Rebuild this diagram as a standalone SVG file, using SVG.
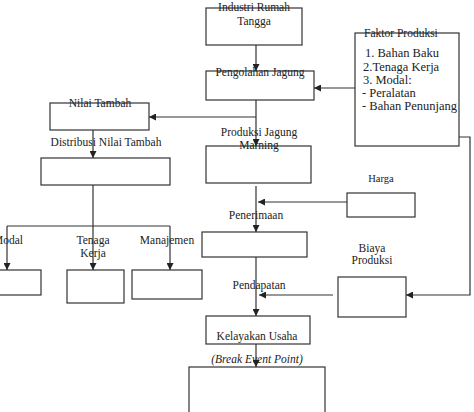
<svg xmlns="http://www.w3.org/2000/svg" width="474" height="412" viewBox="0 0 474 412" font-family="'Liberation Serif', 'DejaVu Serif', serif">
<style>
.b{fill:#fff;stroke:#333;stroke-width:1.2}
.l{fill:none;stroke:#333;stroke-width:1.2}
text{font-family:'Liberation Serif','DejaVu Serif',serif;font-size:11.5px;fill:#222}
.c{text-anchor:middle}
.s{font-size:12.5px}
.i{font-style:italic}
</style>
<defs>
<marker id="a" viewBox="0 0 10 10" refX="10" refY="5" markerWidth="7" markerHeight="7" markerUnits="userSpaceOnUse" orient="auto"><path d="M0,0 L10,5 L0,10 z" fill="#222"/></marker>
</defs>
<rect width="474" height="412" fill="#fff"/>
<g id="connectors">
<path class="l" d="M256,45 V71" marker-end="url(#a)"/>
<path class="l" d="M355,88 H314" marker-end="url(#a)"/>
<path class="l" d="M256,100 V146" marker-end="url(#a)"/>
<path class="l" d="M256,117 H149" marker-end="url(#a)"/>
<path class="l" d="M93,130 V158" marker-end="url(#a)"/>
<path class="l" d="M93,185 V270" marker-end="url(#a)"/>
<path class="l" d="M7,226 H170"/>
<path class="l" d="M7,226 V270" marker-end="url(#a)"/>
<path class="l" d="M170,226 V270" marker-end="url(#a)"/>
<path class="l" d="M256,186 V232" marker-end="url(#a)"/>
<path class="l" d="M347,202 H258" marker-end="url(#a)"/>
<path class="l" d="M256,257 V316" marker-end="url(#a)"/>
<path class="l" d="M333,295 H259" marker-end="url(#a)"/>
<path class="l" d="M459,137 H470 V295 H406" marker-end="url(#a)"/>
<path class="l" d="M256,344 V367" marker-end="url(#a)"/>
</g>
<g id="industri"><rect class="b" x="206" y="8" width="96" height="37"/><text class="c" x="254" y="11">Industri Rumah</text><text class="c" x="254" y="25">Tangga</text></g>
<g id="pengolahan"><rect class="b" x="206" y="71" width="108" height="29"/><text class="c" x="260" y="76">Pengolahan Jagung</text></g>
<g id="faktor"><rect class="b" x="355" y="33" width="104" height="113"/><text x="364" y="37">Faktor Produksi</text><text class="s" x="365" y="57">1. Bahan Baku</text><text class="s" x="363" y="71">2.Tenaga Kerja</text><text class="s" x="363" y="84">3. Modal:</text><text class="s" x="362" y="97">- Peralatan</text><text class="s" x="362" y="110">- Bahan Penunjang</text></g>
<g id="nilai"><rect class="b" x="50" y="103" width="99" height="27"/><text class="c" x="100" y="107">Nilai Tambah</text></g>
<g id="distribusi"><rect class="b" x="41" y="158" width="129" height="27"/><text class="c" x="106" y="146">Distribusi Nilai Tambah</text></g>
<g id="modal"><rect class="b" x="-5" y="270" width="46" height="25"/><text class="c" x="8" y="244">Modal</text></g>
<g id="tenaga"><rect class="b" x="67" y="270" width="57" height="33"/><text class="c" x="93" y="244">Tenaga</text><text class="c" x="93" y="257">Kerja</text></g>
<g id="manajemen"><rect class="b" x="132" y="270" width="70" height="29"/><text class="c" x="167" y="244">Manajemen</text></g>
<g id="produksi"><rect class="b" x="206" y="146" width="105" height="37"/><text class="c" x="259" y="136">Produksi Jagung</text><text class="c" x="259" y="149">Marning</text></g>
<g id="harga"><rect class="b" x="347" y="193" width="68" height="24"/><text class="c" x="381" y="182" style="font-size:10.5px">Harga</text></g>
<g id="penerimaan"><rect class="b" x="202" y="232" width="105" height="25"/><text class="c" x="256" y="219">Penerimaan</text></g>
<g id="biaya"><rect class="b" x="338" y="277" width="68" height="40"/><text class="c" x="372" y="252">Biaya</text><text class="c" x="372" y="264">Produksi</text></g>
<g id="pendapatan"><text class="c" x="259" y="289">Pendapatan</text></g>
<g id="kelayakan"><rect class="b" x="206" y="316" width="104" height="28"/><text class="c" x="257" y="340">Kelayakan Usaha</text></g>
<g id="bep"><rect class="b" x="189" y="367" width="136" height="50"/><text class="c i" x="257" y="363">(Break Event Point)</text></g>
</svg>
